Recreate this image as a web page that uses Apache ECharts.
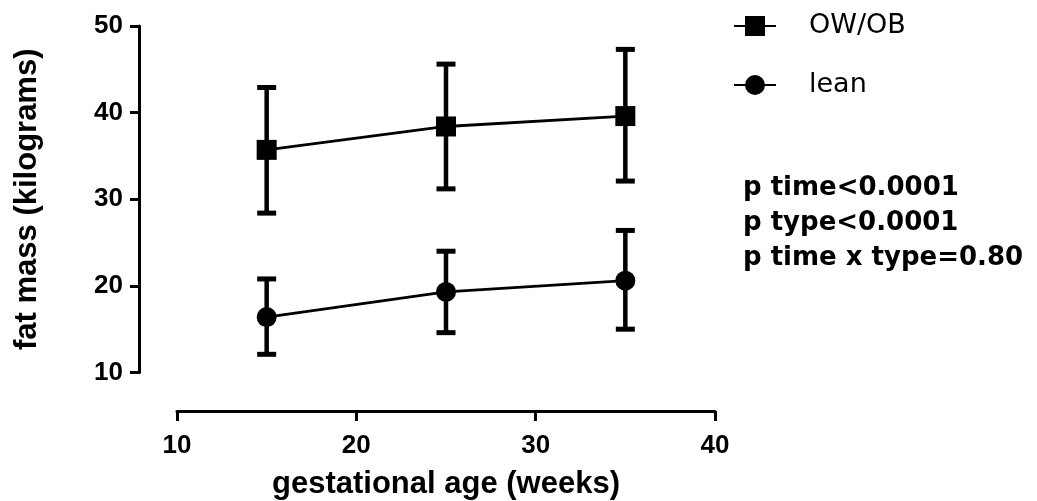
<!DOCTYPE html>
<html>
<head>
<meta charset="utf-8">
<script src="https://cdn.jsdelivr.net/npm/echarts@6/dist/echarts.min.js"></script>
<style>
  html, body { margin: 0; padding: 0; background: #fff; }
  #chart { width: 1037px; height: 501px; }
</style>
</head>
<body>
<div id="chart"></div>
<script>
// Fat mass over gestational age, mean with error bars per group
const weeks = [15, 25, 35];
const xTicks = [10, 20, 30, 40];
const yTicks = [10, 20, 30, 40, 50];

const owName = 'OW/OB';
const owMean = [35.7, 38.4, 39.6];
const owLow  = [28.4, 31.2, 32.1];
const owHigh = [42.9, 45.6, 47.3];

const leanName = 'lean';
const leanMean = [16.4, 19.3, 20.6];
const leanLow  = [12.1, 14.6, 15.0];
const leanHigh = [20.8, 24.0, 26.4];

const statLines = ['p time<0.0001', 'p type<0.0001', 'p time x type=0.80'];

const axisFont = 'Liberation Sans';
const noteFont = 'DejaVu Sans';

const pairs = (xs, ys) => xs.map((x, i) => [x, ys[i]]);
const bars = (xs, lo, hi) => xs.map((x, i) => [x, lo[i], hi[i]]);

// Error bar: vertical stem with horizontal caps at both ends
function errorBar(params, api) {
  const x = api.value(0);
  const pLo = api.coord([x, api.value(1)]);
  const pHi = api.coord([x, api.value(2)]);
  const half = 9.5;
  return {
    type: 'group',
    children: [
      { type: 'line', shape: { x1: pLo[0], y1: pLo[1], x2: pHi[0], y2: pHi[1] },
        style: { stroke: '#000', lineWidth: 4.5 } },
      { type: 'line', shape: { x1: pHi[0] - half, y1: pHi[1], x2: pHi[0] + half, y2: pHi[1] },
        style: { stroke: '#000', lineWidth: 5 } },
      { type: 'line', shape: { x1: pLo[0] - half, y1: pLo[1], x2: pLo[0] + half, y2: pLo[1] },
        style: { stroke: '#000', lineWidth: 5 } }
    ]
  };
}

const chart = echarts.init(document.getElementById('chart'), null, { renderer: 'canvas', width: 1037, height: 501 });

chart.setOption({
  backgroundColor: '#fff',
  animation: false,
  grid: { left: 177, width: 538, top: 26, height: 346.5, containLabel: false, outerBoundsMode: 'none' },
  xAxis: {
    type: 'value',
    min: xTicks[0], max: xTicks[xTicks.length - 1], interval: 10,
    offset: 38.5,
    name: 'gestational age (weeks)',
    nameLocation: 'middle',
    nameGap: 58,
    nameTextStyle: { fontFamily: axisFont, fontWeight: 'bold', fontSize: 31, color: '#000' },
    axisLine: { lineStyle: { color: '#000', width: 3 } },
    axisTick: { inside: false, length: 10, lineStyle: { color: '#000', width: 3 } },
    axisLabel: { margin: 22, fontFamily: axisFont, fontWeight: 'bold', fontSize: 26, color: '#000' },
    splitLine: { show: false }
  },
  yAxis: {
    type: 'value',
    min: yTicks[0], max: yTicks[yTicks.length - 1], interval: 10,
    offset: 38,
    name: 'fat mass (kilograms)',
    nameLocation: 'middle',
    nameRotate: 90,
    nameGap: 96,
    nameTextStyle: { fontFamily: axisFont, fontWeight: 'bold', fontSize: 31, color: '#000' },
    axisLine: { lineStyle: { color: '#000', width: 3 } },
    axisTick: { inside: false, length: 9, lineStyle: { color: '#000', width: 3 } },
    axisLabel: { margin: 16, fontFamily: axisFont, fontWeight: 'bold', fontSize: 26, color: '#000' },
    splitLine: { show: false }
  },
  legend: {
    data: [owName, leanName],
    orient: 'vertical',
    left: 728,
    top: 7.5,
    itemWidth: 42,
    itemHeight: 25,
    itemGap: 32,
    selectedMode: false,
    textStyle: { fontFamily: noteFont, fontSize: 27, color: '#000', padding: [0, 0, 0, 28] }
  },
  graphic: [{
    type: 'text',
    left: 743,
    top: 171,
    style: {
      text: statLines.join('\n'),
      font: 'bold 26px "DejaVu Sans"',
      lineHeight: 35,
      fill: '#000'
    }
  }],
  series: [
    {
      name: owName + ' error',
      type: 'custom',
      renderItem: errorBar,
      data: bars(weeks, owLow, owHigh),
      encode: { x: 0, y: [1, 2] },
      z: 2
    },
    {
      name: leanName + ' error',
      type: 'custom',
      renderItem: errorBar,
      data: bars(weeks, leanLow, leanHigh),
      encode: { x: 0, y: [1, 2] },
      z: 2
    },
    {
      name: owName,
      type: 'line',
      data: pairs(weeks, owMean),
      symbol: 'rect',
      symbolSize: 20,
      itemStyle: { color: '#000' },
      lineStyle: { color: '#000', width: 2.8 },
      z: 3
    },
    {
      name: leanName,
      type: 'line',
      data: pairs(weeks, leanMean),
      symbol: 'circle',
      symbolSize: 20,
      itemStyle: { color: '#000' },
      lineStyle: { color: '#000', width: 2.8 },
      z: 3
    }
  ]
});
</script>
</body>
</html>
